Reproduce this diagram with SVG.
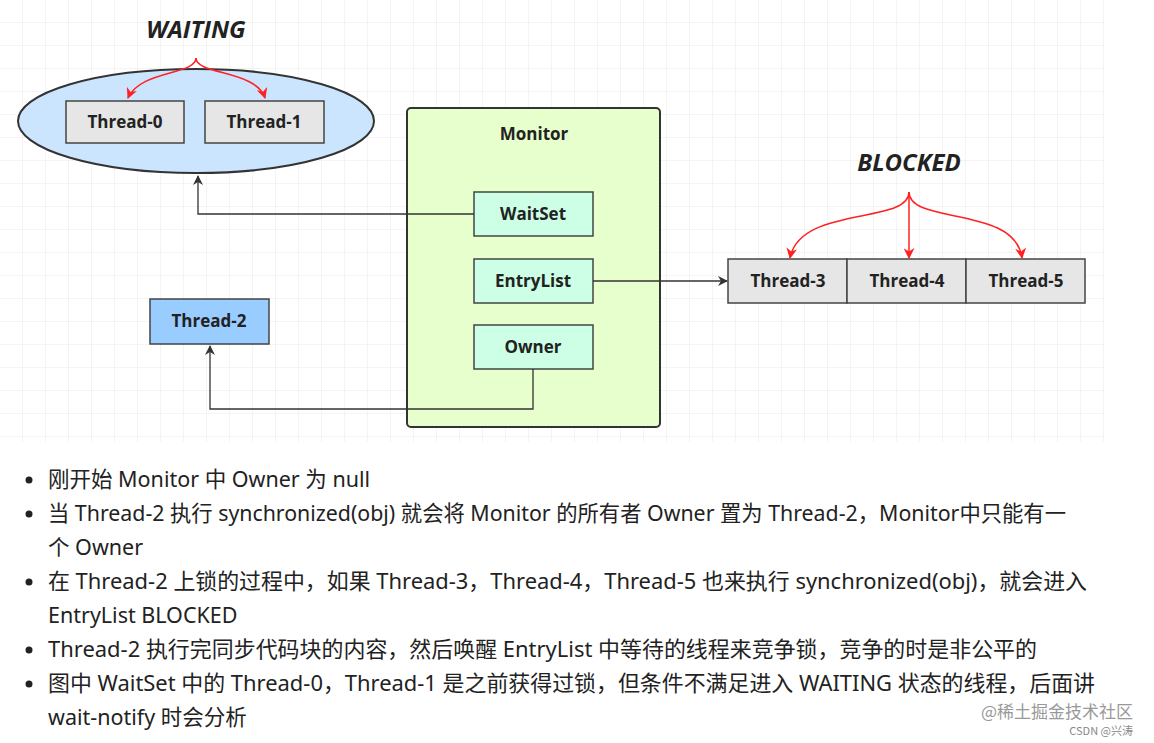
<svg xmlns="http://www.w3.org/2000/svg" width="1154" height="743" viewBox="0 0 1154 743">
<style>
.b{stroke:#444;stroke-width:1.5}
.t{font-family:"Open Sans","Noto Sans",sans-serif;font-weight:bold;font-size:17px;fill:#222;text-anchor:middle}
.s{font-family:"Open Sans","Noto Sans",sans-serif;font-weight:bold;font-style:italic;font-size:24px;fill:#222;text-anchor:middle}
.c{fill:none;stroke:#333;stroke-width:1.3}
.r{fill:none;stroke:#f22;stroke-width:1.5}
.p{font-family:"Noto Sans","Noto Sans CJK SC",sans-serif;font-size:21.5px;fill:#222}
</style>
<defs>
<pattern id="g" width="23" height="23" patternUnits="userSpaceOnUse"><path d="M23 0V23H0" fill="none" stroke="#e8e8e8" stroke-width="1"/></pattern>
<marker id="a" viewBox="0 0 10 10" refX="9" refY="5" markerWidth="10" markerHeight="10" orient="auto" markerUnits="userSpaceOnUse"><path d="M0 0L10 5L0 10L3 5Z" fill="#333"/></marker>
<marker id="ra" viewBox="0 0 10 10" refX="9" refY="5" markerWidth="11" markerHeight="11" orient="auto" markerUnits="userSpaceOnUse"><path d="M0 0L10 5L0 10L3 5Z" fill="#f22"/></marker>
</defs>
<rect width="1154" height="743" fill="#fff"/>
<rect x="0" y="0" width="1104" height="442" fill="url(#g)"/>
<g id="waiting-label"><text class="s" x="196" y="38">WAITING</text></g>
<g id="waiting"><ellipse cx="196" cy="121" rx="178" ry="52" fill="#cce5ff" stroke="#333" stroke-width="2"/></g>
<g id="thread-0"><rect x="66" y="101" width="118" height="42" fill="#e6e6e6" class="b"/><text class="t" x="125" y="128">Thread-0</text></g>
<g id="thread-1"><rect x="205" y="101" width="119" height="42" fill="#e6e6e6" class="b"/><text class="t" x="264" y="128">Thread-1</text></g>
<g id="monitor"><rect x="407" y="108" width="253" height="319" rx="4" fill="#e6ffcc" stroke="#333" stroke-width="2"/><text class="t" x="534" y="140">Monitor</text></g>
<g id="waitset"><rect x="474" y="192" width="119" height="44" fill="#ccffe6" class="b"/><text class="t" x="533" y="220">WaitSet</text></g>
<g id="entrylist"><rect x="474" y="259" width="119" height="44" fill="#ccffe6" class="b"/><text class="t" x="533" y="287">EntryList</text></g>
<g id="owner"><rect x="474" y="325" width="119" height="44" fill="#ccffe6" class="b"/><text class="t" x="533" y="353">Owner</text></g>
<g id="thread-2"><rect x="150" y="299" width="119" height="45" fill="#99ccff" class="b"/><text class="t" x="209" y="327">Thread-2</text></g>
<g id="blocked-label"><text class="s" x="909" y="171">BLOCKED</text></g>
<g id="thread-3"><rect x="728" y="259" width="119" height="44" fill="#e6e6e6" class="b"/><text class="t" x="788" y="287">Thread-3</text></g>
<g id="thread-4"><rect x="847" y="259" width="119" height="44" fill="#e6e6e6" class="b"/><text class="t" x="907" y="287">Thread-4</text></g>
<g id="thread-5"><rect x="966" y="259" width="119" height="44" fill="#e6e6e6" class="b"/><text class="t" x="1026" y="287">Thread-5</text></g>
<g id="connectors">
<path class="c" d="M474 214H198V176" marker-end="url(#a)"/>
<path class="c" d="M533 369V409H210V346" marker-end="url(#a)"/>
<path class="c" d="M593 281H727" marker-end="url(#a)"/>
<path class="r" d="M196 58C196 75 140 70 128 98" marker-end="url(#ra)"/>
<path class="r" d="M196 58C196 75 256 70 265 98" marker-end="url(#ra)"/>
<path class="r" d="M909 192C909 225 800 205 790 258" marker-end="url(#ra)"/>
<path class="r" d="M909 192V258" marker-end="url(#ra)"/>
<path class="r" d="M909 192C909 225 1015 205 1022 258" marker-end="url(#ra)"/>
</g>
<g fill="#222">
<circle cx="29" cy="480" r="3.5"/><circle cx="29" cy="514" r="3.5"/><circle cx="29" cy="582" r="3.5"/><circle cx="29" cy="650" r="3.5"/><circle cx="29" cy="684" r="3.5"/>
</g>
<text class="p" x="48" y="487">刚开始 Monitor 中 Owner 为 null</text>
<text class="p" x="48" y="521" textLength="1018" lengthAdjust="spacingAndGlyphs">当 Thread-2 执行 synchronized(obj) 就会将 Monitor 的所有者 Owner 置为 Thread-2，Monitor中只能有一</text>
<text class="p" x="48" y="555">个 Owner</text>
<text class="p" x="48" y="589" textLength="1039" lengthAdjust="spacingAndGlyphs">在 Thread-2 上锁的过程中，如果 Thread-3，Thread-4，Thread-5 也来执行 synchronized(obj)，就会进入</text>
<text class="p" x="48" y="623">EntryList BLOCKED</text>
<text class="p" x="48" y="657" textLength="989" lengthAdjust="spacingAndGlyphs">Thread-2 执行完同步代码块的内容，然后唤醒 EntryList 中等待的线程来竞争锁，竞争的时是非公平的</text>
<text class="p" x="48" y="691" textLength="1047" lengthAdjust="spacingAndGlyphs">图中 WaitSet 中的 Thread-0，Thread-1 是之前获得过锁，但条件不满足进入 WAITING 状态的线程，后面讲</text>
<text class="p" x="48" y="725">wait-notify 时会分析</text>
<text x="1133" y="718" text-anchor="end" font-family="Noto Sans CJK SC,sans-serif" font-size="17" fill="#999">@稀土掘金技术社区</text>
<text x="1133" y="735" text-anchor="end" font-family="Noto Sans CJK SC,sans-serif" font-size="11" fill="#888">CSDN @兴涛</text>
</svg>
